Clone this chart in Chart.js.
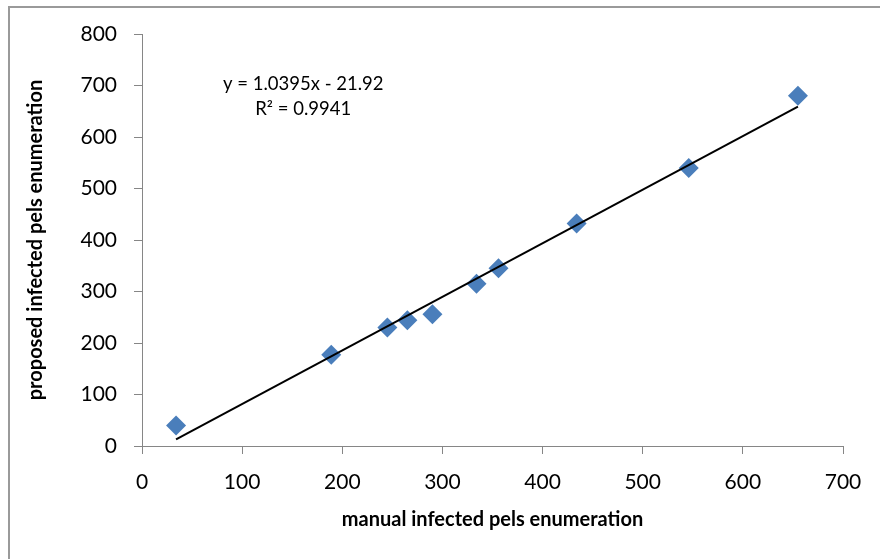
<!DOCTYPE html>
<html>
<head>
<meta charset="utf-8">
<script src="https://cdn.jsdelivr.net/npm/chart.js@4/dist/chart.umd.min.js"></script>
<style>
  html, body { margin: 0; padding: 0; background: #fff; }
  #wrap { width: 880px; height: 559px; }
</style>
</head>
<body>
<div id="wrap"><canvas id="chart" width="880" height="559"></canvas></div>
<script>
// manual count (x) vs proposed count (y)
const manualCounts = [34, 189, 245, 265, 290, 334, 356, 434, 546, 655];
const proposedCounts = [40, 177, 230, 244, 256, 315, 345, 432, 540, 680];

// trendline end points as drawn
const trendX = [34, 655];
const trendY = [13, 659];

const equationLines = ["y = 1.0395x - 21.92", "R² = 0.9941"];

const xTicks = [0, 700, 100];
const yTicks = [0, 800, 100];

const axisGray = "#868686";
const tickFont = { family: "Lato, 'Open Sans', sans-serif", size: 21 };
const titleFont = { family: "Lato, 'Open Sans', sans-serif", size: 20, weight: "bold" };

// gray frame round the chart, like the Excel chart border
const framePlugin = {
  id: "frame",
  beforeDraw(chart) {
    const ctx = chart.ctx;
    ctx.save();
    ctx.fillStyle = "#fff";
    ctx.fillRect(0, 0, chart.width, chart.height);
    ctx.strokeStyle = "#9a9a9a";
    ctx.lineWidth = 2;
    ctx.strokeRect(9, 7, 900, 600);
    ctx.restore();
  },
};

// trendline equation text
const equationPlugin = {
  id: "equation",
  afterDatasetsDraw(chart) {
    const { ctx, scales } = chart;
    const cx = scales.x.getPixelForValue(161);
    ctx.save();
    ctx.fillStyle = "#000";
    ctx.font = "18.5px Lato, 'Open Sans', sans-serif";
    ctx.textAlign = "center";
    ctx.textBaseline = "middle";
    ctx.fillText(equationLines[0], cx, scales.y.getPixelForValue(703));
    ctx.fillText(equationLines[1], cx, scales.y.getPixelForValue(654));
    ctx.restore();
  },
};

new Chart(document.getElementById("chart").getContext("2d"), {
  type: "scatter",
  data: {
    datasets: [
      {
        label: "Linear",
        type: "line",
        data: trendX.map((x, i) => ({ x: x, y: trendY[i] })),
        borderColor: "#000",
        borderWidth: 2,
        pointRadius: 0,
        fill: false,
      },
      {
        label: "count",
        data: manualCounts.map((x, i) => ({ x: x, y: proposedCounts[i] })),
        pointStyle: "rectRot",
        pointRadius: 10,
        pointHoverRadius: 10,
        backgroundColor: "#4a7ebb",
        borderColor: "#4a7ebb",
        borderWidth: 0,
      },
    ],
  },
  options: {
    responsive: false,
    animation: false,
    layout: { padding: { left: 0, top: 34, right: 37, bottom: 0 } },
    plugins: {
      legend: { display: false },
      tooltip: { enabled: false },
    },
    scales: {
      x: {
        type: "linear",
        min: xTicks[0],
        max: xTicks[1],
        afterFit: (s) => { s.height = 113; },
        ticks: { stepSize: xTicks[2], color: "#000", font: tickFont, padding: 16, maxRotation: 0 },
        grid: { drawOnChartArea: false, drawTicks: true, tickLength: 8, color: axisGray },
        border: { color: axisGray, width: 1 },
        title: {
          display: true,
          text: "manual infected pels enumeration",
          color: "#000",
          font: titleFont,
          padding: { top: 0, bottom: 27 },
        },
      },
      y: {
        type: "linear",
        min: yTicks[0],
        max: yTicks[1],
        afterFit: (s) => { s.width = 142; },
        ticks: { stepSize: yTicks[2], color: "#000", font: tickFont, padding: 17 },
        grid: { drawOnChartArea: false, drawTicks: true, tickLength: 8, color: axisGray },
        border: { color: axisGray, width: 1 },
        title: {
          display: true,
          text: "proposed infected pels enumeration",
          color: "#000",
          font: titleFont,
          padding: { top: 24, bottom: 0 },
        },
      },
    },
  },
  plugins: [framePlugin, equationPlugin],
});
</script>
</body>
</html>
